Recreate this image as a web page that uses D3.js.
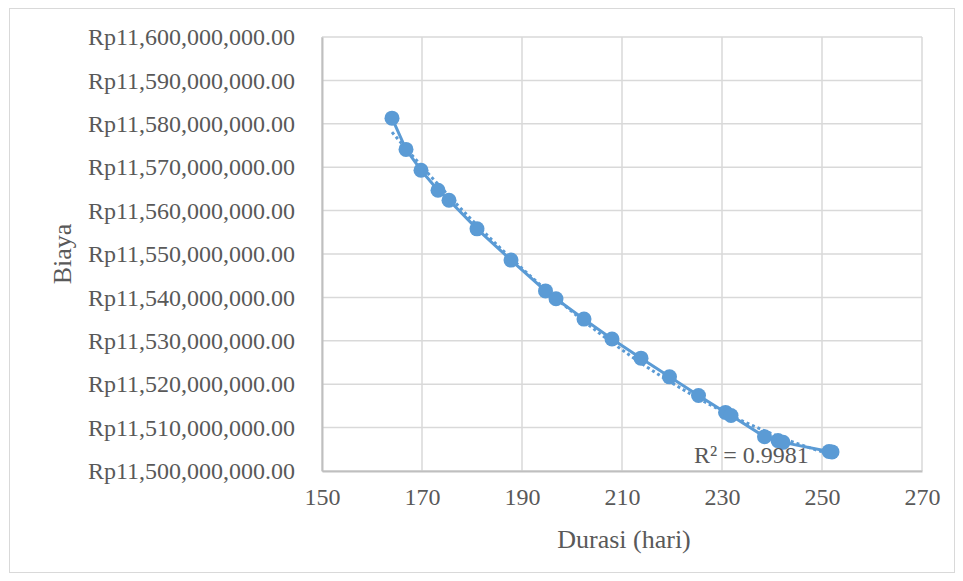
<!DOCTYPE html>
<html><head><meta charset="utf-8">
<script src="https://cdn.jsdelivr.net/npm/d3@7"></script>
<style>body{margin:0;background:#fff}svg{display:block}text{font-family:"Liberation Serif","Times New Roman",serif;fill:#595959}</style>
</head><body><svg id="c" width="963" height="581"></svg>
<script>
const durasi = [164, 166.8, 169.8, 173.2, 175.4, 181, 187.8, 194.7, 196.8, 202.4, 208, 213.8, 219.5, 225.3, 230.7, 231.8, 238.5, 241.2, 242.2, 251.4, 252];
const biaya = [11581.3, 11574.1, 11569.3, 11564.7, 11562.4, 11555.8, 11548.6, 11541.5, 11539.7, 11535.0, 11530.4, 11526.0, 11521.7, 11517.4, 11513.5, 11512.8, 11507.9, 11507.0, 11506.6, 11504.5, 11504.4].map(v => v * 1e6);
const xTicks = [150, 170, 190, 210, 230, 250, 270];
const yTicks = [11500e6, 11510e6, 11520e6, 11530e6, 11540e6, 11550e6, 11560e6, 11570e6, 11580e6, 11590e6, 11600e6];
const xTitle = "Durasi (hari)";
const yTitle = "Biaya";
const r2Label = "R² = 0.9981";

const svg = d3.select("#c");
const color = "#5B9BD5";
svg.append("rect").attr("x",9.5).attr("y",8.5).attr("width",945).attr("height",564).attr("fill","#fff").attr("stroke","#d9d9d9").attr("stroke-width",1);

const x = d3.scaleLinear().domain([150,270]).range([322,922]);
const y = d3.scaleLinear().domain([11500e6,11600e6]).range([471,37]);

svg.append("g").selectAll("line").data(yTicks).join("line")
  .attr("x1",322).attr("x2",922).attr("y1",d=>y(d)).attr("y2",d=>y(d))
  .attr("stroke","#d9d9d9").attr("stroke-width",1.5);
svg.append("g").selectAll("line").data(xTicks).join("line")
  .attr("y1",37).attr("y2",471).attr("x1",d=>x(d)).attr("x2",d=>x(d))
  .attr("stroke","#d9d9d9").attr("stroke-width",1.5);

const fmt = d3.format(",.2f");
const ya = svg.append("g").attr("transform","translate(322,0)")
  .call(d3.axisLeft(y).tickValues(yTicks).tickSize(0).tickPadding(27).tickFormat(d=>"Rp"+fmt(d)));
ya.select(".domain").attr("stroke","#bfbfbf").attr("stroke-width",2);
ya.selectAll("text").style("font-size","24px").attr("fill","#595959").attr("font-family",null);
const xa = svg.append("g").attr("transform","translate(0,471)")
  .call(d3.axisBottom(x).tickValues(xTicks).tickSize(0).tickPadding(17).tickFormat(d3.format("d")));
xa.select(".domain").attr("stroke","#bfbfbf").attr("stroke-width",2);
xa.selectAll("text").style("font-size","24px").attr("fill","#595959").attr("font-family",null);

svg.append("text").attr("x",624).attr("y",548).attr("text-anchor","middle").style("font-size","26px").text(xTitle);
svg.append("text").attr("transform","translate(71,254) rotate(-90)").attr("text-anchor","middle").style("font-size","26px").text(yTitle);

const pts = durasi.map((d,i)=>[d, biaya[i]/1e6]);
const xm = d3.mean(durasi);
let S = [[0,0,0],[0,0,0],[0,0,0]], B=[0,0,0];
pts.forEach(([a,b])=>{const t=a-xm; const p=[1,t,t*t]; for(let i=0;i<3;i++){B[i]+=p[i]*b; for(let j=0;j<3;j++) S[i][j]+=p[i]*p[j];}});
function solve(A,b){const n=b.length;A=A.map((r,i)=>[...r,b[i]]);for(let i=0;i<n;i++){let m=i;for(let k=i+1;k<n;k++)if(Math.abs(A[k][i])>Math.abs(A[m][i]))m=k;[A[i],A[m]]=[A[m],A[i]];for(let k=i+1;k<n;k++){const f=A[k][i]/A[i][i];for(let j=i;j<=n;j++)A[k][j]-=f*A[i][j];}}const s=new Array(n);for(let i=n-1;i>=0;i--){let v=A[i][n];for(let j=i+1;j<n;j++)v-=A[i][j]*s[j];s[i]=v/A[i][i];}return s;}
const c = solve(S,B);
const tr = d3.range(0,101).map(k=>{const a=d3.min(durasi)+(d3.max(durasi)-d3.min(durasi))*k/100;const t=a-xm;return [a,(c[0]+c[1]*t+c[2]*t*t)*1e6];});

const line = d3.line().x(d=>x(d[0])).y(d=>y(d[1]));
svg.append("path").datum(durasi.map((d,i)=>[d,biaya[i]])).attr("d",line)
  .attr("fill","none").attr("stroke",color).attr("stroke-width",3).attr("stroke-linejoin","round");
svg.append("path").datum(tr).attr("d",line).attr("fill","none").attr("stroke",color)
  .attr("stroke-width",3).attr("stroke-dasharray","3 3");
svg.append("g").selectAll("circle").data(durasi.map((d,i)=>[d,biaya[i]])).join("circle")
  .attr("cx",d=>x(d[0])).attr("cy",d=>y(d[1])).attr("r",7.5).attr("fill",color);

svg.append("text").attr("x",694).attr("y",463).style("font-size","24px").text(r2Label);
</script></body></html>
